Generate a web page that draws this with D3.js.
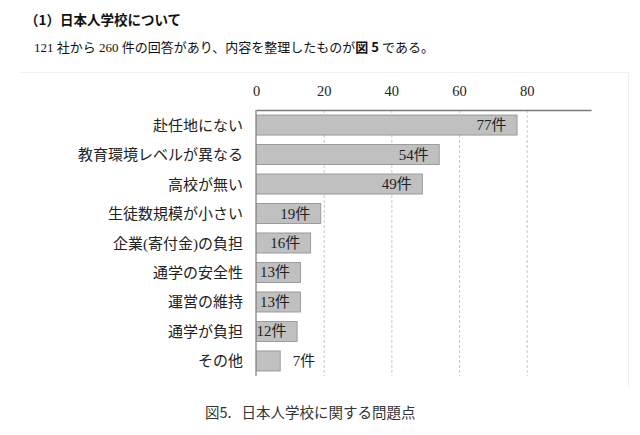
<!DOCTYPE html>
<html><head><meta charset="utf-8">
<script src="https://cdn.jsdelivr.net/npm/d3@7"></script>
<style>body{margin:0;background:#fff}svg{display:block}</style>
</head><body>
<script>
const categories = ["赴任地にない","教育環境レベルが異なる","高校が無い","生徒数規模が小さい","企業(寄付金)の負担","通学の安全性","運営の維持","通学が負担","その他"];
const values = [77,54,49,19,16,13,13,12,7];
const ticks = [0,20,40,60,80];
const unit = "件";

const W=640,H=435;
const svg=d3.select("body").append("svg").attr("width",W).attr("height",H);
const serif="'Liberation Serif','DejaVu Serif','Noto Sans CJK JP',serif";
const sans="'Noto Sans CJK JP','DejaVu Sans',sans-serif";

svg.append("text").attr("x",25).attr("y",25).attr("font-family",sans).attr("font-weight","bold").attr("font-size",13.5).attr("fill","#111").text("（1）日本人学校について");
const sub=svg.append("text").attr("x",34).attr("y",52).attr("font-family",serif).attr("font-size",13).attr("fill","#111");
sub.append("tspan").text("121 社から 260 件の回答があり、内容を整理したものが");
sub.append("tspan").attr("font-family",sans).attr("font-weight","bold").text("図 5");
sub.append("tspan").text(" である。");

// faint frame
svg.append("path").attr("d","M20,72.5H628.5V388").attr("fill","none").attr("stroke","#f0f0f0");

const x=d3.scaleLinear().domain([0,99]).range([256,591]);
const y=d3.scaleBand().domain(categories).range([110,376]).paddingInner(0.32).paddingOuter(0.17);

// grid
svg.append("g").selectAll("line").data(ticks.slice(1)).join("line")
 .attr("x1",d=>x(d)+0.5).attr("x2",d=>x(d)+0.5).attr("y1",110).attr("y2",376)
 .attr("stroke","#c8c8c8").attr("stroke-dasharray","3,2");

const ax=svg.append("g").attr("transform","translate(0,110)")
 .call(d3.axisTop(x).tickValues(ticks).tickSize(0).tickPadding(14));
ax.select(".domain").attr("stroke","#7a7a7a").attr("stroke-width",1.5);
ax.selectAll("text").attr("font-family",serif).attr("font-size",14.5).attr("fill","#222");

svg.append("line").attr("x1",256).attr("x2",256).attr("y1",110).attr("y2",376).attr("stroke","#7a7a7a").attr("stroke-width",1.2);

svg.append("g").selectAll("rect").data(values).join("rect")
 .attr("x",x(0)+0.5).attr("y",(d,i)=>y(categories[i])).attr("width",d=>x(d)-x(0)).attr("height",y.bandwidth())
 .attr("fill","#c0c0c0").attr("stroke","#8c8c8c").attr("stroke-width",0.8);

svg.append("g").selectAll("text").data(values).join("text")
 .attr("x",d=>d<10?x(d)+13:x(d)-10)
 .attr("text-anchor",d=>d<10?"start":"end")
 .attr("y",(d,i)=>y(categories[i])+y.bandwidth()/2+5)
 .attr("font-family",serif).attr("font-size",15).attr("fill","#222")
 .text(d=>d+unit);

svg.append("g").selectAll("text").data(categories).join("text")
 .attr("x",243).attr("text-anchor","end")
 .attr("y",d=>y(d)+y.bandwidth()/2+5.5)
 .attr("font-family",serif).attr("font-size",15).attr("fill","#222")
 .text(d=>d);

const cap=svg.append("text").attr("x",205).attr("y",418).attr("font-family",sans).attr("font-size",14.5).attr("fill","#333");
cap.append("tspan").text("図5.");
cap.append("tspan").attr("dx",10).text("日本人学校に関する問題点");
</script>
</body></html>
